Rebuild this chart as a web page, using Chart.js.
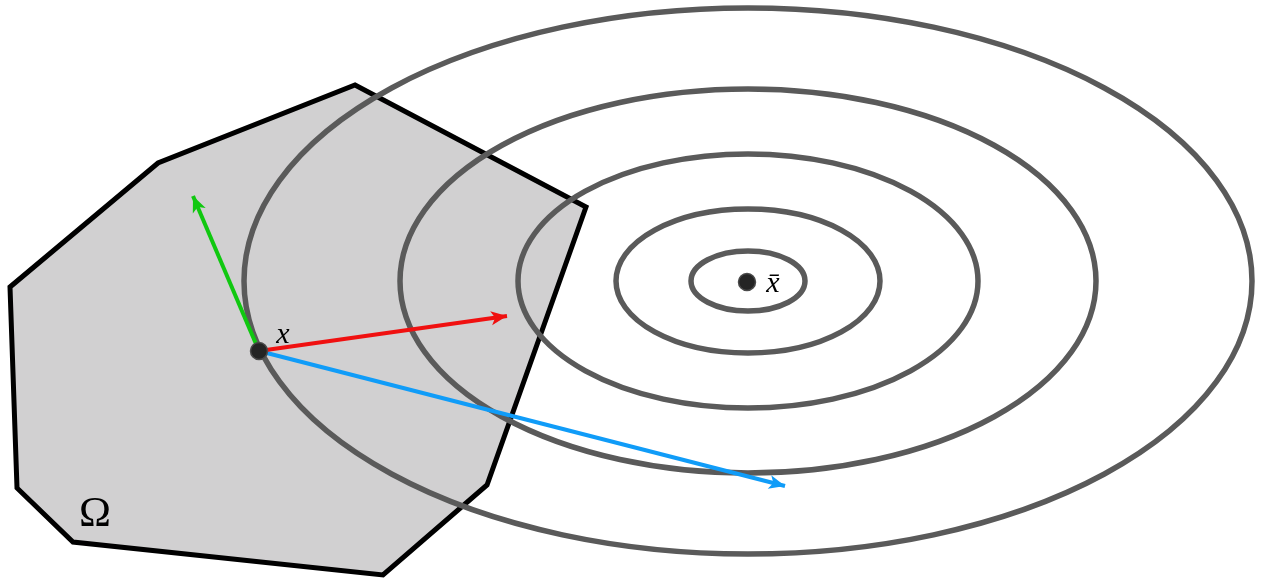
<!DOCTYPE html>
<html>
<head>
<meta charset="utf-8">
<script src="https://cdn.jsdelivr.net/npm/chart.js@4.4.1/dist/chart.umd.min.js"></script>
<style>
  html, body { margin: 0; padding: 0; background: #fff; }
  #wrap { width: 1263px; height: 580px; position: relative; }
</style>
</head>
<body>
<div id="wrap"><canvas id="diagram"></canvas></div>
<script>
// Feasible set Omega (polygon vertices)
const omegaX = [355, 586, 487, 383, 73, 17, 10, 158];
const omegaY = [85, 207, 485, 575, 542, 488, 287, 163];

// Level sets around the minimiser x-bar
const levelCenter = [748, 281];
const levelRx = [57, 132, 230, 348, 504];
const levelRy = [30, 72, 127, 192, 273];

// Current iterate x and the unconstrained minimiser x-bar
const iterate = [259, 351];
const minimiser = [747, 282];

// Direction arrows from x: tips and colours
const arrowTipX = [193, 507, 785];
const arrowTipY = [196, 316, 486];
const arrowColors = ['#10c810', '#f01010', '#109cf8'];

const labels = [
  { text: '\u03A9', x: 95, y: 515, font: '43px "Liberation Serif", serif' },
  { text: 'x', x: 283, y: 335, font: 'italic 30px "Liberation Serif", serif' },
  { text: 'x\u0304', x: 773, y: 284, font: 'italic 30px "Liberation Serif", serif' }
];

const shapes = {
  id: 'shapes',
  beforeDatasetsDraw(chart) {
    const { ctx, scales: { x, y } } = chart;
    ctx.save();
    // polygon
    ctx.beginPath();
    omegaX.forEach((v, i) => {
      const px = x.getPixelForValue(v), py = y.getPixelForValue(omegaY[i]);
      if (i === 0) ctx.moveTo(px, py); else ctx.lineTo(px, py);
    });
    ctx.closePath();
    ctx.fillStyle = '#d1d0d1';
    ctx.fill();
    ctx.lineWidth = 5;
    ctx.lineJoin = 'miter';
    ctx.strokeStyle = '#000';
    ctx.stroke();

    // level ellipses
    const cx = x.getPixelForValue(levelCenter[0]);
    const cy = y.getPixelForValue(levelCenter[1]);
    ctx.strokeStyle = '#5a5a5a';
    ctx.lineWidth = 5.5;
    levelRx.forEach((rx, i) => {
      const rpx = Math.abs(x.getPixelForValue(levelCenter[0] + rx) - cx);
      const rpy = Math.abs(y.getPixelForValue(levelCenter[1] + levelRy[i]) - cy);
      ctx.beginPath();
      ctx.ellipse(cx, cy, rpx, rpy, 0, 0, Math.PI * 2);
      ctx.stroke();
    });
    ctx.restore();
  },
  afterDatasetsDraw(chart) {
    const { ctx, scales: { x, y } } = chart;
    ctx.save();
    // arrowheads
    chart.data.datasets.forEach(ds => {
      if (!ds.arrow) return;
      const a = ds.data[0], b = ds.data[1];
      const x0 = x.getPixelForValue(a.x), y0 = y.getPixelForValue(a.y);
      const x1 = x.getPixelForValue(b.x), y1 = y.getPixelForValue(b.y);
      const ang = Math.atan2(y1 - y0, x1 - x0);
      const c = Math.cos(ang), s = Math.sin(ang);
      const len = 16, half = 7;
      ctx.beginPath();
      ctx.moveTo(x1, y1);
      ctx.lineTo(x1 - len * c + half * s, y1 - len * s - half * c);
      ctx.lineTo(x1 - len * 0.75 * c, y1 - len * 0.75 * s);
      ctx.lineTo(x1 - len * c - half * s, y1 - len * s + half * c);
      ctx.closePath();
      ctx.fillStyle = ds.borderColor;
      ctx.fill();
    });
    // text
    ctx.fillStyle = '#000';
    ctx.textAlign = 'center';
    ctx.textBaseline = 'middle';
    labels.forEach(l => {
      ctx.font = l.font;
      ctx.fillText(l.text, x.getPixelForValue(l.x), y.getPixelForValue(l.y));
    });
    ctx.restore();
  }
};

const arrowSets = arrowTipX.map((tx, i) => ({
  arrow: true,
  order: 2,
  data: [{ x: iterate[0], y: iterate[1] }, { x: tx, y: arrowTipY[i] }],
  showLine: true,
  borderColor: arrowColors[i],
  borderWidth: 4,
  pointRadius: 0
}));

new Chart(document.getElementById('diagram'), {
  type: 'scatter',
  data: {
    datasets: [
      ...arrowSets,
      {
        order: 1,
        data: [{ x: iterate[0], y: iterate[1] }, { x: minimiser[0], y: minimiser[1] }],
        pointRadius: 8.5,
        pointBackgroundColor: '#242424',
        pointBorderColor: '#4a4a4a',
        pointBorderWidth: 1.5,
        showLine: false,
        clip: false
      }
    ]
  },
  options: {
    responsive: true,
    maintainAspectRatio: false,
    animation: false,
    layout: { padding: 0, autoPadding: false },
    plugins: { legend: { display: false }, tooltip: { enabled: false } },
    scales: {
      x: { type: 'linear', min: 0, max: 1263, display: false },
      y: { type: 'linear', min: 0, max: 580, reverse: true, display: false }
    }
  },
  plugins: [shapes]
});
</script>
</body>
</html>
